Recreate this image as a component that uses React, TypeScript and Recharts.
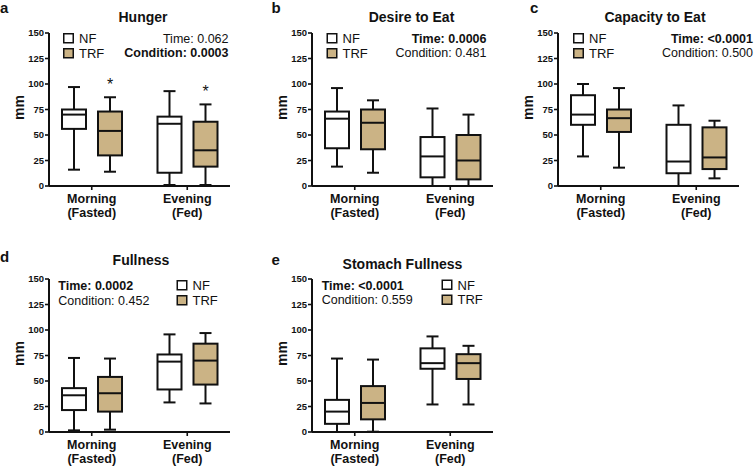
import { ComposedChart, Bar, XAxis, YAxis } from "recharts";

const FONT = '"Liberation Sans", Arial, Helvetica, sans-serif';
const GOLD = "#CBB385";
const INK = "#111";

const timePoints = ["Morning", "Evening"];
const timeStates = ["(Fasted)", "(Fed)"];
const yTicks = [0, 25, 50, 75, 100, 125, 150];

// five-number summaries per time point: [min, q1, median, q3, max]
const hungerNF = [[16, 56, 70, 75, 97], [1, 13, 61, 68, 93]];
const hungerTRF = [[14, 30, 54, 73, 87], [1, 19, 35, 63, 80]];
const hungerStars = ["*", "*"];

const desireNF = [[19, 37, 66, 73, 96], [0, 8.5, 29, 48, 76]];
const desireTRF = [[13, 36, 62, 75, 84], [0, 6.5, 25, 50, 70]];

const capacityNF = [[29, 60, 70, 89, 100], [0, 12.5, 24, 60, 79]];
const capacityTRF = [[18, 53, 66.5, 75, 96], [7.5, 16.6, 28, 57.5, 64]];

const fullnessNF = [[1.6, 21.5, 36, 43, 72.6], [29, 41.7, 69, 76, 95.7]];
const fullnessTRF = [[2.3, 20, 38, 54, 72], [28, 46.5, 70, 86.6, 97]];

const stomachNF = [[0, 8, 20, 31.5, 72], [27, 62, 67.5, 82, 93.7]];
const stomachTRF = [[0.3, 12.4, 28.5, 45, 71], [27, 52, 67.5, 76.3, 84.5]];

const seriesNames = ["NF", "TRF"];

function BoxShape(props: any) {
  const { x, y, width, height, stats, boxFill, mark } = props;
  if (!stats) return null;
  const [mn, q1, md, q3, mx] = stats;
  const top = Math.min(y, y + height);
  const bottom = Math.max(y, y + height);
  const span = mx - mn || 1;
  const py = (v: number) => bottom - ((v - mn) / span) * (bottom - top);
  const cx = x + width / 2;
  const cap = width / 4;
  const sw = 2;
  return (
    <g>
      <line x1={cx} x2={cx} y1={py(mx)} y2={py(q3)} stroke={INK} strokeWidth={sw} />
      <line x1={cx} x2={cx} y1={py(q1)} y2={py(mn)} stroke={INK} strokeWidth={sw} />
      <line x1={cx - cap} x2={cx + cap} y1={py(mx)} y2={py(mx)} stroke={INK} strokeWidth={sw} />
      <line x1={cx - cap} x2={cx + cap} y1={py(mn)} y2={py(mn)} stroke={INK} strokeWidth={sw} />
      <rect x={x} y={py(q3)} width={width} height={py(q1) - py(q3)} fill={boxFill} stroke={INK} strokeWidth={sw} />
      <line x1={x} x2={x + width} y1={py(md)} y2={py(md)} stroke={INK} strokeWidth={sw} />
      {mark ? (
        <text x={cx} y={py(mx) - 7} textAnchor="middle" fontFamily={FONT} fontSize={16} fill={INK}>
          {mark}
        </text>
      ) : null}
    </g>
  );
}

function TimeTick(props: any) {
  const { x, y, payload } = props;
  const i = timePoints.indexOf(payload.value);
  return (
    <text x={x} y={y} textAnchor="middle" fontFamily={FONT} fontWeight="bold" fontSize={12.5} fill={INK}>
      <tspan x={x} dy={11}>{payload.value}</tspan>
      <tspan x={x} dy={13.5}>{timeStates[i]}</tspan>
    </text>
  );
}

function MmLabel(props: any) {
  const vb = props.viewBox || { x: 0, y: 33, width: 49, height: 153 };
  const x = vb.x + vb.width - 30.5;
  const y = vb.y + vb.height / 2 - 2;
  return (
    <text
      x={x}
      y={y}
      transform={`rotate(-90 ${x} ${y})`}
      textAnchor="middle"
      dominantBaseline="central"
      fontFamily={FONT}
      fontWeight="bold"
      fontSize={14}
      fill={INK}
    >
      mm
    </text>
  );
}

function Panel({ left, top, nf, trf, stars }: any) {
  const rows = timePoints.map((t, i) => ({
    time: t,
    nf: nf[i],
    trf: trf[i],
    sig: stars ? stars[i] : "",
  }));
  return (
    <div style={{ position: "absolute", left, top }}>
      <ComposedChart
        width={234}
        height={226}
        data={rows}
        margin={{ top: 33, right: 4, bottom: 0, left: 0 }}
        barSize={24}
        barGap={12}
      >
        <XAxis
          dataKey="time"
          padding={{ left: -5, right: -5 }}
          tickSize={4}
          tickMargin={2}
          height={40}
          interval={0}
          axisLine={{ stroke: INK, strokeWidth: 2 }}
          tickLine={{ stroke: INK, strokeWidth: 1.6 }}
          tick={<TimeTick />}
        />
        <YAxis
          type="number"
          domain={[0, 150]}
          ticks={yTicks}
          width={49}
          tickSize={4}
          tickMargin={1}
          interval={0}
          axisLine={{ stroke: INK, strokeWidth: 2 }}
          tickLine={{ stroke: INK, strokeWidth: 1.6 }}
          tick={{ fill: INK, fontSize: 9.5, fontWeight: "bold", fontFamily: FONT }}
          label={<MmLabel />}
        />
        <Bar
          name={seriesNames[0]}
          dataKey={(d: any) => [d.nf[0], d.nf[4]]}
          fill="#fff"
          isAnimationActive={false}
          shape={(p: any) => <BoxShape {...p} stats={p.payload.nf} boxFill="#fff" mark="" />}
        />
        <Bar
          name={seriesNames[1]}
          dataKey={(d: any) => [d.trf[0], d.trf[4]]}
          fill={GOLD}
          isAnimationActive={false}
          shape={(p: any) => <BoxShape {...p} stats={p.payload.trf} boxFill={GOLD} mark={p.payload.sig} />}
        />
      </ComposedChart>
    </div>
  );
}

const panels = [
  {
    letter: "a", title: "Hunger", nf: hungerNF, trf: hungerTRF, stars: hungerStars,
    left: 0, top: 0, letterPos: [0, 13], titlePos: [143, 22],
    legend: [63, 33],
    notes: [{ text: "Time: 0.062", bold: false }, { text: "Condition: 0.0003", bold: true }],
    notePos: [228.5, 42.7], anchor: "end",
  },
  {
    letter: "b", title: "Desire to Eat", nf: desireNF, trf: desireTRF,
    left: 262.5, top: 0, letterPos: [271.5, 13], titlePos: [411.5, 22],
    legend: [326.5, 33],
    notes: [{ text: "Time: 0.0006", bold: true }, { text: "Condition: 0.481", bold: false }],
    notePos: [486.5, 42.7], anchor: "end",
  },
  {
    letter: "c", title: "Capacity to Eat", nf: capacityNF, trf: capacityTRF,
    left: 509, top: 0, letterPos: [530, 13], titlePos: [655, 22],
    legend: [573, 33],
    notes: [{ text: "Time: <0.0001", bold: true }, { text: "Condition: 0.500", bold: false }],
    notePos: [753, 42.7], anchor: "end",
  },
  {
    letter: "d", title: "Fullness", nf: fullnessNF, trf: fullnessTRF,
    left: 0, top: 246, letterPos: [0, 262], titlePos: [141, 265],
    legend: [176.5, 280],
    notes: [{ text: "Time: 0.0002", bold: true }, { text: "Condition: 0.452", bold: false }],
    notePos: [58.3, 290], anchor: "start",
  },
  {
    letter: "e", title: "Stomach Fullness", nf: stomachNF, trf: stomachTRF,
    left: 262.5, top: 246, letterPos: [271.5, 265], titlePos: [402.5, 268.5],
    legend: [441.5, 279.5],
    notes: [{ text: "Time: <0.0001", bold: true }, { text: "Condition: 0.559", bold: false }],
    notePos: [321.7, 289.5], anchor: "start",
  },
];

export default function App() {
  return (
    <div
      style={{
        position: "absolute",
        left: 0,
        top: 0,
        width: 754,
        height: 466,
        background: "#fff",
        overflow: "hidden",
        fontFamily: FONT,
      }}
    >
      {panels.map((p) => (
        <Panel key={p.letter} left={p.left} top={p.top} nf={p.nf} trf={p.trf} stars={p.stars} />
      ))}
      <svg width={754} height={466} style={{ position: "absolute", left: 0, top: 0, pointerEvents: "none" }}>
        {panels.map((p) => (
          <g key={p.letter} fontFamily={FONT} fill={INK}>
            <text x={p.letterPos[0]} y={p.letterPos[1]} fontSize={15} fontWeight="bold">{p.letter}</text>
            <text x={p.titlePos[0]} y={p.titlePos[1]} fontSize={14} fontWeight="bold" textAnchor="middle">{p.title}</text>
            {seriesNames.map((s, i) => (
              <g key={s}>
                <rect
                  x={p.legend[0] + 0.75}
                  y={p.legend[1] + 0.75 + i * 15}
                  width={9.5}
                  height={9}
                  fill={i === 0 ? "#fff" : GOLD}
                  stroke={INK}
                  strokeWidth={1.5}
                />
                <text x={p.legend[0] + 16} y={p.legend[1] + 10 + i * 14.7} fontSize={13}>{s}</text>
              </g>
            ))}
            {p.notes.map((n, i) => (
              <text
                key={n.text}
                x={p.notePos[0]}
                y={p.notePos[1] + i * 14.6}
                fontSize={12.5}
                fontWeight={n.bold ? "bold" : "normal"}
                textAnchor={p.anchor}
              >
                {n.text}
              </text>
            ))}
          </g>
        ))}
      </svg>
    </div>
  );
}
